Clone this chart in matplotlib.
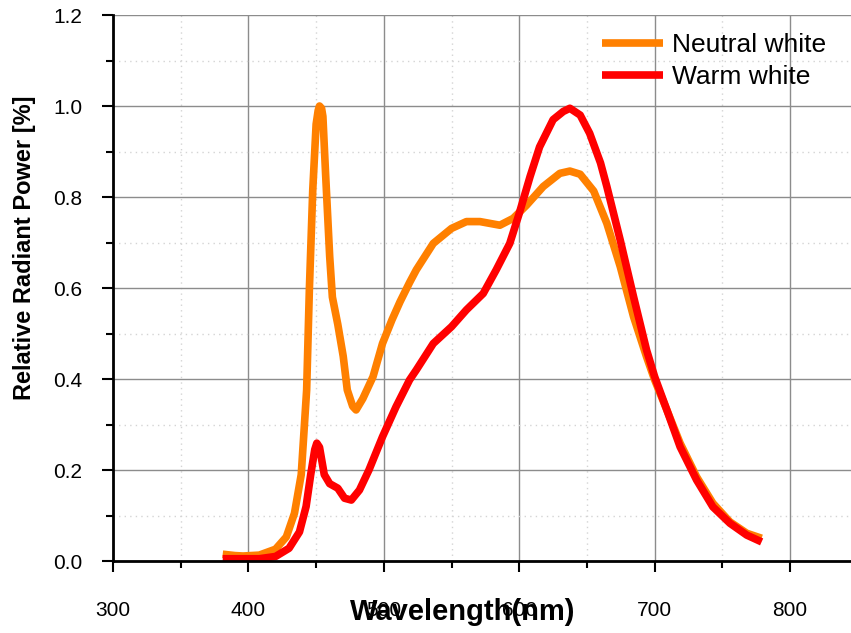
import matplotlib.pyplot as plt
import numpy as np
from matplotlib.ticker import MultipleLocator, FormatStrFormatter

plt.rcParams['font.family'] = ['Liberation Sans', 'DejaVu Sans']

# neutral white spectrum
nw_wl = [381, 390, 396, 408, 420, 428, 434, 439, 443, 445, 447.5, 450, 451.5, 452.5, 454, 455,
         457, 460, 462, 466, 470, 473, 477, 479.5, 484.5, 492, 499, 506, 512, 519, 524, 536.5,
         550, 561, 571, 585.7, 595.5, 605.4, 617.7, 630, 637.4, 645, 655, 664.7, 674.6, 684.4,
         694, 700, 709, 718.8, 731, 743, 755.6, 768, 779]
nw_val = [0.015, 0.012, 0.011, 0.013, 0.026, 0.053, 0.105, 0.19, 0.376, 0.596, 0.815, 0.96, 0.99,
          1.0, 0.995, 0.977, 0.85, 0.67, 0.58, 0.52, 0.45, 0.376, 0.34, 0.332, 0.357, 0.405, 0.478,
          0.53, 0.57, 0.612, 0.64, 0.698, 0.731, 0.746, 0.746, 0.738, 0.753, 0.782, 0.823, 0.852,
          0.857, 0.85, 0.813, 0.742, 0.647, 0.537, 0.449, 0.398, 0.332, 0.259, 0.185, 0.127,
          0.086, 0.061, 0.05]

# warm white spectrum
ww_wl = [381, 408, 420, 430, 437.7, 442.6, 446, 449, 450.5, 452.5, 456, 460, 466, 471, 476, 482,
         489, 499, 509, 519, 524, 536.5, 550, 561, 573.4, 583, 593, 600, 608, 615, 625, 632.5,
         637.4, 645, 652, 660, 664.7, 674.6, 684.4, 694, 700, 709, 718.8, 731, 743, 755.6, 768, 779]
ww_val = [0.005, 0.005, 0.01, 0.028, 0.064, 0.12, 0.19, 0.245, 0.259, 0.25, 0.19, 0.17, 0.16,
          0.138, 0.134, 0.156, 0.2, 0.273, 0.339, 0.398, 0.42, 0.478, 0.515, 0.552, 0.588, 0.64,
          0.698, 0.764, 0.845, 0.91, 0.97, 0.988, 0.995, 0.98, 0.94, 0.875, 0.823, 0.705, 0.581,
          0.464, 0.405, 0.332, 0.251, 0.178, 0.119, 0.083, 0.057, 0.042]

x_ticks = [300, 400, 500, 600, 700, 800]

fig = plt.figure(figsize=(8.51, 6.33), dpi=100)
ax = fig.add_axes([0.1328, 0.1137, 0.8672, 0.8626])

ax.plot(nw_wl, nw_val, color='#ff8000', lw=5.5, label='Neutral white',
        solid_capstyle='butt', solid_joinstyle='round')
ax.plot(ww_wl, ww_val, color='#ff0000', lw=5.5, label='Warm white',
        solid_capstyle='butt', solid_joinstyle='round')

ax.set_xlim(300, 845)
ax.set_ylim(0, 1.2)
ax.set_xticks(x_ticks)
ax.xaxis.set_minor_locator(MultipleLocator(50))
ax.yaxis.set_major_locator(MultipleLocator(0.2))
ax.yaxis.set_minor_locator(MultipleLocator(0.1))
ax.yaxis.set_major_formatter(FormatStrFormatter('%.1f'))

# grids: solid major, dotted minor
ax.grid(True, which='major', color='#8c8c8c', lw=1)
ax.grid(True, which='minor', color='#d4d4d4', lw=1, ls=(0, (1, 3)))
ax.set_axisbelow(True)

for s in ['top', 'right']:
    ax.spines[s].set_visible(False)
for s in ['left', 'bottom']:
    ax.spines[s].set_linewidth(2)

ax.tick_params(which='major', direction='out', length=8, width=1.5, labelsize=15)
ax.tick_params(which='minor', direction='out', length=5, width=1.5)
ax.tick_params(axis='x', which='major', pad=21)
ax.tick_params(axis='y', which='major', pad=14)

ax.set_xlabel('Wavelength(nm)', fontsize=21, fontweight='bold')
ax.xaxis.set_label_coords(0.474, -0.068)
ax.set_ylabel('Relative Radiant Power [%]', fontsize=17, fontweight='bold')
ax.yaxis.set_label_coords(-0.104, 0.573)

ax.legend(loc='upper right', bbox_to_anchor=(0.999, 1.01), frameon=False, fontsize=19,
          handlelength=2.3, handletextpad=0.35, labelspacing=0.3)

plt.savefig('out.png', dpi=100)
